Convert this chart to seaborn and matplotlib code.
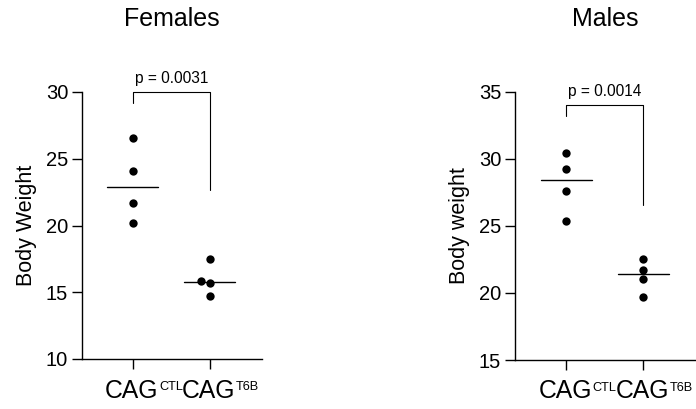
import numpy as np
import pandas as pd
import matplotlib
matplotlib.use("Agg")
import matplotlib.pyplot as plt
import seaborn as sns

# ---- data ----
groups = ["CTL", "T6B"]
group_base = ["CAG", "CAG"]
group_sup = ["CTL", "T6B"]
female_ctl = [26.55, 24.05, 21.7, 20.2]
female_t6b = [17.5, 15.87, 15.72, 14.7]
male_ctl = [30.45, 29.25, 27.6, 25.4]
male_t6b = [22.5, 21.75, 21.05, 19.7]
p_female = "p = 0.0031"
p_male = "p = 0.0014"

sns.set_style("ticks")
plt.rcParams["font.family"] = ["Liberation Sans", "DejaVu Sans"]
plt.rcParams["text.color"] = "black"
plt.rcParams["axes.labelcolor"] = "black"
plt.rcParams["xtick.color"] = "black"
plt.rcParams["ytick.color"] = "black"

fig = plt.figure(figsize=(6.96, 4.09), dpi=100)
W, H = 696, 409

def make_ax(x0, x1, y0, y1):
    return fig.add_axes([x0 / W, 1 - y1 / H, (x1 - x0) / W, (y1 - y0) / H])

ax1 = make_ax(82, 262, 92, 359)
ax2 = make_ax(515, 696, 92, 360)

def panel(ax, ctl, t6b, ylim, yticks, ylabel, title, ptext, br_top, br_left, br_right):
    df = pd.DataFrame({
        "group": [groups[0]] * len(ctl) + [groups[1]] * len(t6b),
        "value": list(ctl) + list(t6b),
    })
    sns.swarmplot(data=df, x="group", y="value", order=groups, color="black",
                  size=6, ax=ax, zorder=3)
    meds = df.groupby("group")["value"].median()
    for i, g in enumerate(groups):
        ax.plot([i - 0.33, i + 0.33], [meds[g], meds[g]], color="black", lw=1.0, zorder=2)
    ax.set_xlim(-0.66, 1.68)
    ax.set_ylim(*ylim)
    ax.set_yticks(yticks)
    ax.set_xticks([0, 1])
    ax.set_xticklabels(["", ""])
    ax.tick_params(axis="y", labelsize=14.5, length=7, width=1.0, color="black", pad=3)
    ax.tick_params(axis="x", length=7, width=1.0, color="black")
    ax.set_xlabel("")
    ax.set_ylabel(ylabel, fontsize=15.5, labelpad=6.5)
    for s in ["top", "right"]:
        ax.spines[s].set_visible(False)
    for s in ["left", "bottom"]:
        ax.spines[s].set_linewidth(1.0)
        ax.spines[s].set_color("black")
    # group labels with small superscripts
    for i in range(len(groups)):
        base = ax.annotate(group_base[i], xy=(i, 0), xycoords=("data", "axes fraction"),
                           xytext=(-1, -38.5), textcoords="offset pixels",
                           ha="center", va="baseline", fontsize=17.8, annotation_clip=False)
        ax.annotate(group_sup[i], xy=(1, 0), xycoords=(base, "axes fraction"),
                    xytext=(0.5, -31), textcoords="offset pixels",
                    ha="left", va="baseline", fontsize=9.2, annotation_clip=False)
    # significance bracket
    ax.plot([0, 0, 1, 1], [br_left, br_top, br_top, br_right], color="black",
            lw=0.8, clip_on=False)
    ax.annotate(ptext, xy=(0.5, br_top), xytext=(0, 4), textcoords="offset points",
                ha="center", va="bottom", fontsize=11.2, annotation_clip=False)
    bb = ax.get_position()
    fig.text((bb.x0 + bb.x1) / 2, 1 - 19 / H, title, ha="center", va="center", fontsize=18)

panel(ax1, female_ctl, female_t6b, (10, 30), [10, 15, 20, 25, 30], "Body Weight", "Females",
      p_female, 30.0, 29.2, 22.66)
panel(ax2, male_ctl, male_t6b, (15, 35), [15, 20, 25, 30, 35], "Body weight", "Males",
      p_male, 34.03, 33.18, 26.6)

fig.savefig("out.png", dpi=100)
